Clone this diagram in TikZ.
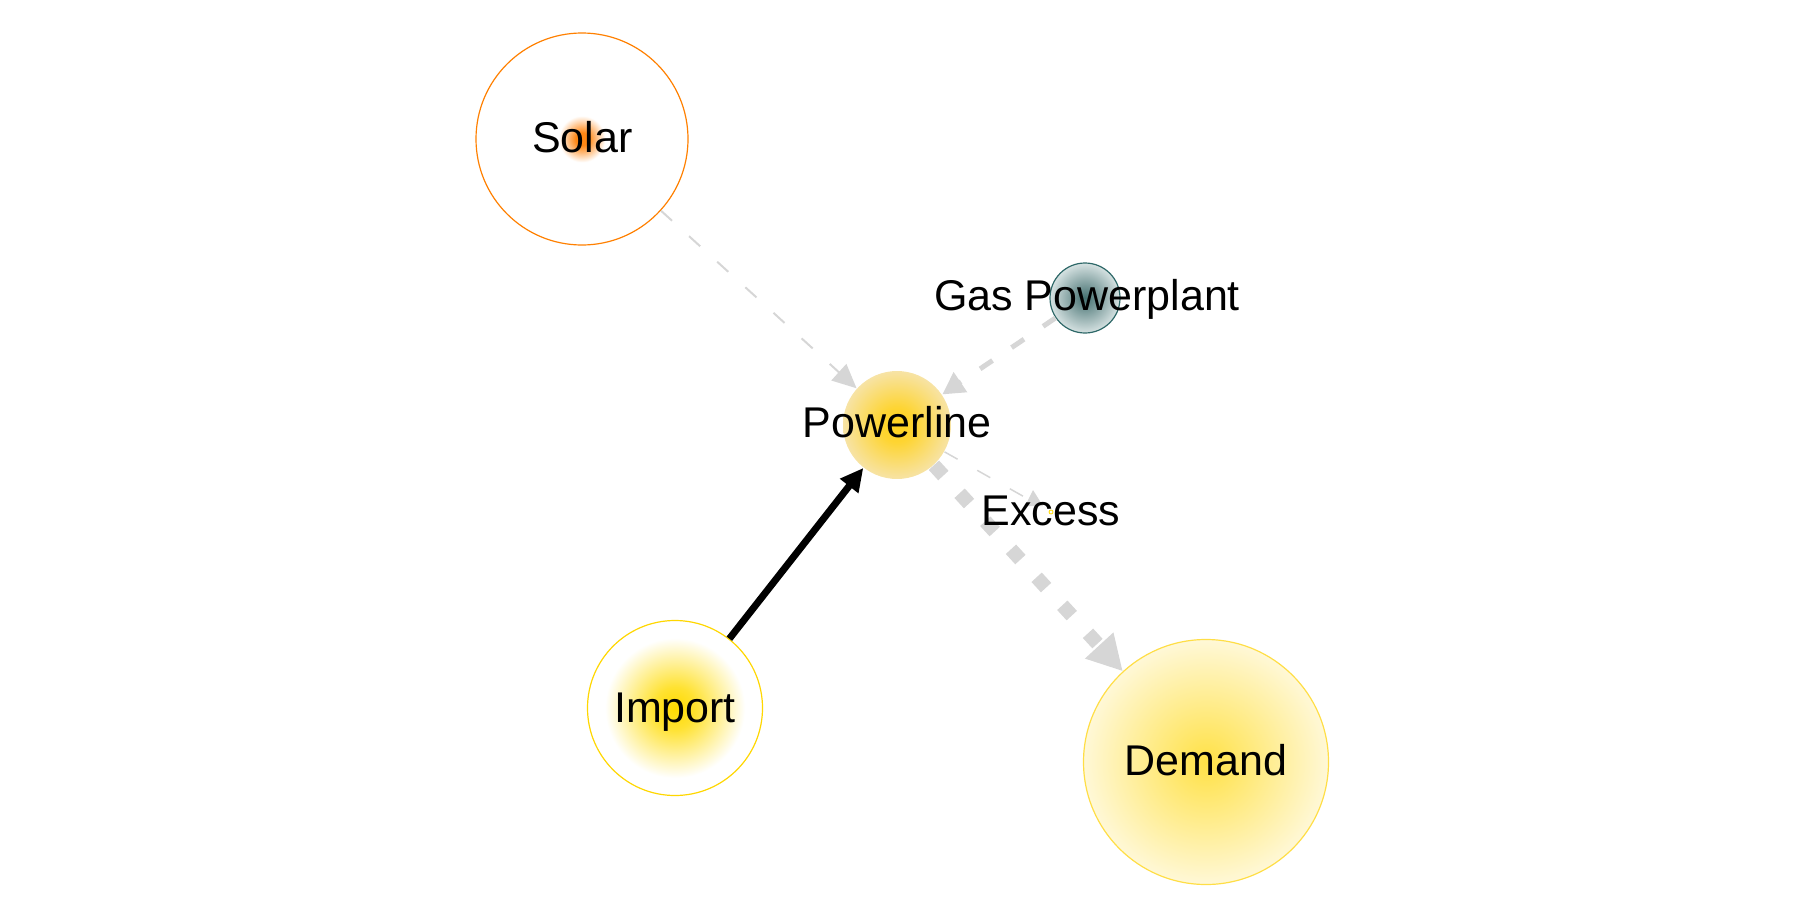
\documentclass[tikz,border=0pt]{standalone}
\usepackage{fontspec}
\setmainfont{Liberation Sans}
\usetikzlibrary{arrows.meta,calc}
\definecolor{edgegray}{RGB}{214,214,214}
\definecolor{pwin}{RGB}{255,210,30}
\definecolor{pwout}{RGB}{247,227,165}
\definecolor{impin}{RGB}{255,218,0}
\definecolor{impmid}{RGB}{255,226,50}
\definecolor{impline}{RGB}{255,215,0}
\definecolor{demin}{RGB}{255,225,70}
\definecolor{demout}{RGB}{255,248,215}
\definecolor{demline}{RGB}{255,222,70}
\definecolor{solline}{RGB}{255,128,0}
\definecolor{solglow}{RGB}{255,135,20}
\definecolor{gasin}{RGB}{68,112,112}
\definecolor{gasout}{RGB}{214,226,226}
\definecolor{gasline}{RGB}{46,104,104}
\pgfdeclareradialshading{pwshade}{\pgfpoint{0bp}{0bp}}{color(0bp)=(pwin); color(8bp)=(pwin!85!pwout); color(25bp)=(pwout); color(50bp)=(pwout)}
\pgfdeclareradialshading{impshade}{\pgfpoint{0bp}{0bp}}{color(0bp)=(impin); color(6bp)=(impmid); color(20bp)=(white); color(50bp)=(white)}
\pgfdeclareradialshading{demshade}{\pgfpoint{0bp}{0bp}}{color(0bp)=(demin); color(25bp)=(demout); color(50bp)=(demout)}
\pgfdeclareradialshading{solshade}{\pgfpoint{0bp}{0bp}}{color(0bp)=(solglow); color(1.5bp)=(solglow); color(5.5bp)=(white); color(50bp)=(white)}
\pgfdeclareradialshading{gasshade}{\pgfpoint{0bp}{0bp}}{color(0bp)=(gasin); color(25bp)=(gasout); color(50bp)=(gasout)}
\begin{document}
\begin{tikzpicture}[x=1pt,y=-1pt,
  lbl/.style={font=\fontsize{43}{50}\selectfont, anchor=base, inner sep=0pt, text=black},
  bubble/.style={circle, inner sep=0pt, line width=1.2pt},
  thinedge/.style={draw=edgegray, line width=2pt, dash pattern=on 15pt off 23pt},
  gasedge/.style={draw=edgegray, line width=5pt, dash pattern=on 15pt off 23pt},
  hairedge/.style={draw=edgegray, line width=1.5pt, dash pattern=on 15pt off 22.5pt},
  fatedge/.style={draw=edgegray, line width=14pt, dash pattern=on 14pt off 24pt},
  importedge/.style={draw=black, line width=7pt}]
\useasboundingbox (0,0) rectangle (1804,918);
% circles
\node[bubble, minimum size=212pt, draw=solline, shade, shading=solshade] (solar) at (582,139) {};
\node[bubble, minimum size=108pt, shade, shading=pwshade] (pw) at (897,425) {};
\node[bubble, minimum size=70pt, draw=gasline, shade, shading=gasshade] (gas) at (1085,298) {};
\node[bubble, minimum size=175pt, draw=impline, shade, shading=impshade] (imp) at (675,708) {};
\node[bubble, minimum size=245pt, draw=demline, shade, shading=demshade] (dem) at (1206,762) {};
\node[circle, inner sep=0pt, minimum size=4pt, draw=impline, line width=0.8pt] (ex) at (1051,512) {};
% connectors
\draw[thinedge, -{Triangle[length=24pt,width=22pt]}] (solar) -- (pw);
\draw[gasedge, -{Triangle[length=22pt,width=23pt]}] (gas) -- (pw);
\draw[importedge, -{Triangle[length=23pt,width=22pt]}] (imp) -- (pw);
\draw[fatedge, -{Triangle[length=35pt,width=36pt]}] (pw) -- (dem);
\draw[hairedge, shorten >=20pt] (pw) -- (ex);
\fill[edgegray] ($(ex)+(-18,-22)$) -- ($(ex)+(-26,-6)$) -- ($(ex)+(-8,-6)$) -- cycle;
% labels
\node[lbl] (solart) at (582.5,152) {Solar};
\node[lbl] (pwt) at (897,437) {Powerline};
\node[lbl] (gast) at (1087,310) {Gas Powerplant};
\node[lbl] (impt) at (675,722) {Import};
\node[lbl] (demt) at (1206,775) {Demand};
\node[lbl] (ext) at (1051,525) {Excess};
\end{tikzpicture}
\end{document}
